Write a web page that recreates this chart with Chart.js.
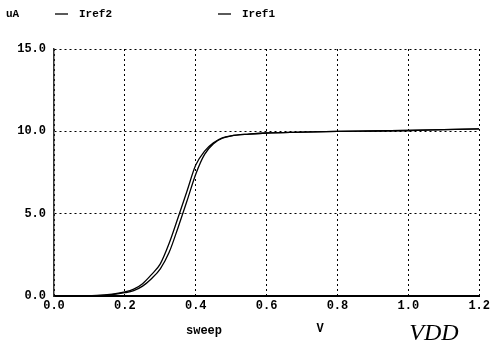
<!DOCTYPE html>
<html>
<head>
<meta charset="utf-8">
<script src="https://cdn.jsdelivr.net/npm/chart.js@4.4.1/dist/chart.umd.min.js"></script>
<style>
  html, body { margin: 0; padding: 0; background: #fff; }
  #wrap { width: 493px; height: 345px; position: relative; }
</style>
</head>
<body>
<div id="wrap"><canvas id="c" width="493" height="345"></canvas></div>
<script>
// Sweep voltage VDD (V)
const vdd   = [0, 0.05, 0.1, 0.15, 0.2, 0.225, 0.25, 0.275, 0.3, 0.325, 0.35, 0.375, 0.4, 0.425, 0.45, 0.475, 0.5, 0.55, 0.6, 0.7, 0.8, 0.9, 1.0, 1.1, 1.2];
// Currents (uA)
const iref2 = [0, 0, 0.02, 0.08, 0.25, 0.42, 0.75, 1.3, 1.95, 3.2, 4.75, 6.35, 7.95, 8.8, 9.3, 9.6, 9.73, 9.83, 9.9, 9.95, 10.0, 10.02, 10.05, 10.1, 10.15];
const iref1 = [0, 0, 0.01, 0.05, 0.2, 0.33, 0.6, 1.05, 1.65, 2.65, 4.15, 5.75, 7.4, 8.6, 9.25, 9.58, 9.72, 9.83, 9.9, 9.95, 10.0, 10.02, 10.05, 10.1, 10.15];
const seriesNames = ['Iref2', 'Iref1'];
const yTicks = [0, 5, 10, 15];
const xTicks = [0, 0.2, 0.4, 0.6, 0.8, 1.0, 1.2];
const yUnit = 'uA';
const xLabel = 'sweep';
const xUnit = 'V';
const xName = 'VDD';

const mono = '"Liberation Mono", "DejaVu Sans Mono", monospace';

const toPts = (ys) => vdd.map((x, i) => ({ x: x, y: ys[i] }));

const textPlugin = {
  id: 'texts',
  afterDraw(chart) {
    const ctx = chart.ctx;
    ctx.save();
    ctx.fillStyle = '#000';
    ctx.strokeStyle = '#000';
    ctx.textBaseline = 'middle';
    ctx.font = 'bold 11px ' + mono;
    ctx.textAlign = 'left';
    ctx.fillText(yUnit, 6, 14);
    // legend
    const legendX = [55, 218];
    seriesNames.forEach((n, i) => {
      const lx = legendX[i];
      ctx.lineWidth = 1.3;
      ctx.beginPath();
      ctx.moveTo(lx, 14);
      ctx.lineTo(lx + 13, 14);
      ctx.stroke();
      ctx.fillText(n, lx + 24, 14);
    });
    // x axis labels
    ctx.font = 'bold 12px ' + mono;
    ctx.textAlign = 'center';
    ctx.fillText(xLabel, 204, 331);
    ctx.fillText(xUnit, 320, 329);
    ctx.font = 'italic 24px "Liberation Serif", "DejaVu Serif", serif';
    ctx.fillText(xName, 434, 334);
    ctx.restore();
  }
};

new Chart(document.getElementById('c'), {
  type: 'line',
  data: {
    datasets: [
      { label: seriesNames[0], data: toPts(iref2), borderColor: '#000', borderWidth: 1.3, pointRadius: 0, fill: false, cubicInterpolationMode: 'monotone' },
      { label: seriesNames[1], data: toPts(iref1), borderColor: '#000', borderWidth: 1.3, pointRadius: 0, fill: false, cubicInterpolationMode: 'monotone' }
    ]
  },
  options: {
    responsive: false,
    animation: false,
    layout: { padding: { left: 0, right: 10, top: 49, bottom: 0 } },
    plugins: { legend: { display: false }, tooltip: { enabled: false } },
    scales: {
      x: {
        type: 'linear',
        min: 0, max: 1.2,
        afterFit(s) { s.height = 49; },
        afterBuildTicks(s) { s.ticks = xTicks.map(v => ({ value: v })); },
        ticks: {
          color: '#000',
          font: { family: mono, size: 12, weight: 'bold' },
          padding: 3,
          maxRotation: 0,
          autoSkip: false,
          callback: (v) => Number(v).toFixed(1)
        },
        grid: { color: '#000', lineWidth: 1, drawTicks: false },
        border: { display: true, color: '#000', width: 2, dash: [2, 3] }
      },
      y: {
        min: 0, max: 15,
        afterFit(s) { s.width = 54; },
        afterBuildTicks(s) { s.ticks = yTicks.map(v => ({ value: v })); },
        ticks: {
          color: '#000',
          font: { family: mono, size: 12, weight: 'bold' },
          padding: 8,
          callback: (v) => Number(v).toFixed(1)
        },
        grid: { color: '#000', lineWidth: 1, drawTicks: false },
        border: { display: true, color: '#333', width: 1.5, dash: [2, 3] }
      }
    }
  },
  plugins: [textPlugin]
});
</script>
</body>
</html>
